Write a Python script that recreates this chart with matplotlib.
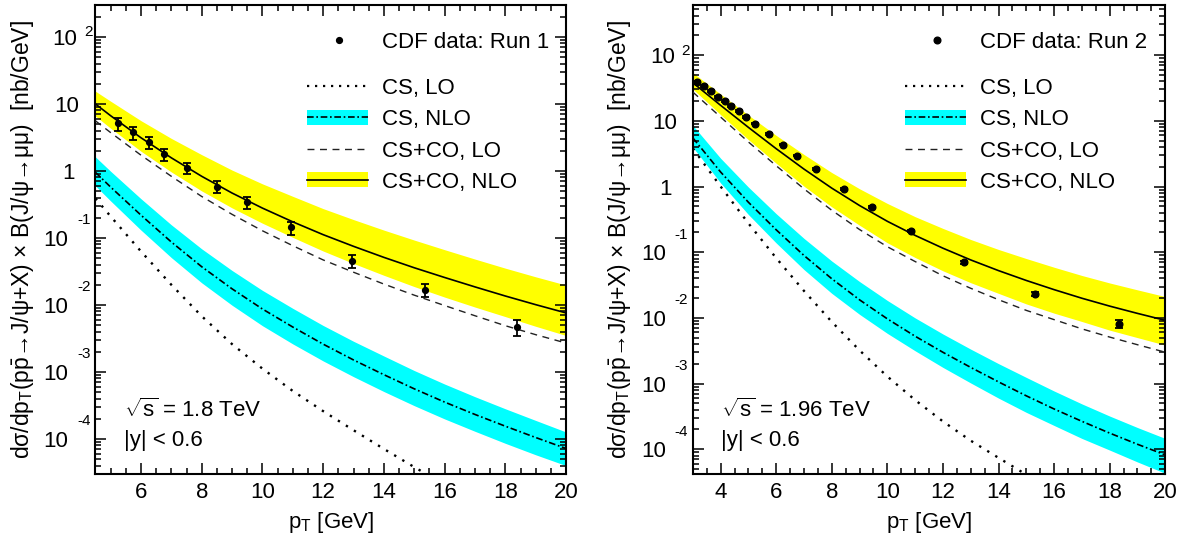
import matplotlib
matplotlib.use("Agg")
import matplotlib.pyplot as plt
from matplotlib.patches import Rectangle
from matplotlib.transforms import offset_copy
from matplotlib.ticker import FixedLocator, MultipleLocator, NullFormatter

plt.rcParams['font.family'] = 'Liberation Sans'
plt.rcParams['mathtext.fontset'] = 'custom'
plt.rcParams['mathtext.rm'] = 'Liberation Sans'
plt.rcParams['mathtext.it'] = 'Liberation Sans:italic'
plt.rcParams['mathtext.sf'] = 'Liberation Sans'

# ---- Run 1 (sqrt(s) = 1.8 TeV) ----
pt1 = [4.5, 5, 6, 7, 8, 9, 10, 11, 12, 13, 14, 15, 16, 17, 18, 19, 20]
co_nlo1 = [10, 6.68, 3.13, 1.57, 0.832, 0.468, 0.279, 0.174, 0.112, 0.075, 0.0513, 0.0359, 0.0257, 0.0186, 0.0136, 0.0101, 0.0076]
co_nlo1_hi = [15.5, 11.0, 5.63, 3.06, 1.75, 1.03, 0.642, 0.418, 0.274, 0.188, 0.131, 0.093, 0.0668, 0.0484, 0.0354, 0.0263, 0.0198]
co_nlo1_lo = [6.6, 4.34, 1.97, 0.966, 0.503, 0.281, 0.166, 0.102, 0.0638, 0.0416, 0.0277, 0.0188, 0.0131, 0.0093, 0.0067, 0.0048, 0.0035]
co_lo1 = [5.6, 3.74, 1.72, 0.832, 0.416, 0.225, 0.128, 0.0766, 0.047, 0.0308, 0.0205, 0.014, 0.0098, 0.0069, 0.0049, 0.0036, 0.0027]
cs_nlo1 = [0.955, 0.575, 0.219, 0.087, 0.0372, 0.0174, 0.0087, 0.00468, 0.0026, 0.00151, 9.1e-4, 5.6e-4, 3.55e-4, 2.32e-4, 1.55e-4, 1.05e-4, 7.2e-5]
cs_nlo1_hi = [1.62, 0.99, 0.385, 0.157, 0.0688, 0.0327, 0.0165, 0.0089, 0.00494, 0.00287, 0.00173, 0.00105, 6.6e-4, 4.27e-4, 2.82e-4, 1.89e-4, 1.27e-4]
cs_nlo1_lo = [0.60, 0.357, 0.131, 0.0509, 0.0214, 0.0099, 0.0049, 0.00262, 0.00146, 8.5e-4, 5.1e-4, 3.14e-4, 1.99e-4, 1.3e-4, 8.6e-5, 5.8e-5, 4.0e-5]
cs_lo1 = [0.39, 0.21, 0.063, 0.020, 0.0068, 0.0026, 0.00112, 5.2e-4, 2.6e-4, 1.35e-4, 7.1e-5, 3.8e-5, 2.1e-5, 1.2e-5, 7e-6, 4e-6, 2.5e-6]

data1_pt = [5.25, 5.75, 6.25, 6.75, 7.5, 8.5, 9.5, 10.95, 12.95, 15.35, 18.4]
data1_val = [5.13, 3.77, 2.67, 1.79, 1.11, 0.583, 0.340, 0.144, 0.0458, 0.0169, 0.00464]
data1_rel = [0.22, 0.22, 0.2, 0.2, 0.2, 0.2, 0.2, 0.22, 0.22, 0.22, 0.27]

# ---- Run 2 (sqrt(s) = 1.96 TeV) ----
pt2 = [3, 4, 5, 6, 7, 8, 9, 10, 11, 12, 13, 14, 15, 16, 17, 18, 19, 20]
co_nlo2 = [38, 17.2, 7.94, 3.76, 1.84, 0.944, 0.513, 0.295, 0.180, 0.115, 0.0762, 0.0524, 0.0371, 0.0269, 0.0199, 0.0151, 0.0117, 0.00917]
co_nlo2_hi = [54, 25.5, 12.2, 6.0, 3.07, 1.63, 0.923, 0.552, 0.347, 0.230, 0.156, 0.110, 0.080, 0.059, 0.0442, 0.034, 0.0267, 0.0211]
co_nlo2_lo = [30.4, 12.4, 5.16, 2.26, 1.01, 0.49, 0.257, 0.139, 0.083, 0.052, 0.0343, 0.0236, 0.0163, 0.0118, 0.0088, 0.0065, 0.0050, 0.00385]
co_lo2 = [27.4, 11.4, 4.76, 2.07, 0.92, 0.434, 0.221, 0.121, 0.072, 0.0437, 0.0282, 0.0189, 0.013, 0.0094, 0.0068, 0.0051, 0.0039, 0.0030]
cs_nlo2 = [5.5, 1.66, 0.575, 0.219, 0.089, 0.0394, 0.0188, 0.00966, 0.00525, 0.00299, 0.00176, 0.00106, 6.5e-4, 4.1e-4, 2.66e-4, 1.76e-4, 1.19e-4, 8.2e-5]
cs_nlo2_hi = [8.5, 2.69, 0.978, 0.385, 0.162, 0.0733, 0.0357, 0.0184, 0.00998, 0.00568, 0.00334, 0.00201, 0.00124, 7.7e-4, 4.9e-4, 3.2e-4, 2.14e-4, 1.46e-4]
cs_nlo2_lo = [3.96, 1.13, 0.374, 0.138, 0.0543, 0.0236, 0.0113, 0.0058, 0.00315, 0.00176, 0.00102, 6.0e-4, 3.64e-4, 2.3e-4, 1.46e-4, 9.7e-5, 6.4e-5, 4.3e-5]
cs_lo2 = [3.8, 1.0, 0.275, 0.0813, 0.0257, 0.0087, 0.0032, 0.00128, 5.6e-4, 2.65e-4, 1.35e-4, 7.4e-5, 4.1e-5, 2.3e-5, 1.3e-5, 8e-6, 5e-6, 3e-6]

data2_pt = [3.16, 3.40, 3.67, 3.91, 4.15, 4.38, 4.65, 4.90, 5.25, 5.74, 6.24, 6.74, 7.44, 8.44, 9.44, 10.84, 12.76, 15.33, 18.35]
data2_val = [39.2, 33.6, 28.6, 23.2, 20.1, 16.7, 14.2, 11.5, 9.1, 6.25, 4.35, 2.96, 1.85, 0.906, 0.487, 0.21, 0.0706, 0.0233, 0.0081]
data2_rel = [0.03] * 16 + [0.05, 0.07, 0.13]

panels = [
    dict(pos=[0.0804, 0.1271, 0.3965, 0.8637], xlim=(4.5, 20), ylim=(3e-5, 300),
         pt=pt1, co_nlo=co_nlo1, co_hi=co_nlo1_hi, co_lo=co_nlo1_lo, co_lo_order=co_lo1,
         cs_nlo=cs_nlo1, cs_hi=cs_nlo1_hi, cs_lo=cs_nlo1_lo, cs_lo_order=cs_lo1,
         dpt=data1_pt, dval=data1_val, drel=data1_rel, ms=4.2,
         run='CDF data: Run 1', energy='1.8'),
    dict(pos=[0.5837, 0.1271, 0.3980, 0.8637], xlim=(3, 20), ylim=(4.2e-5, 580),
         pt=pt2, co_nlo=co_nlo2, co_hi=co_nlo2_hi, co_lo=co_nlo2_lo, co_lo_order=co_lo2,
         cs_nlo=cs_nlo2, cs_hi=cs_nlo2_hi, cs_lo=cs_nlo2_lo, cs_lo_order=cs_lo2,
         dpt=data2_pt, dval=data2_val, drel=data2_rel, ms=4.8,
         run='CDF data: Run 2', energy='1.96'),
]

YELLOW = '#ffff00'
CYAN = '#00ffff'
DOT = (0, (1, 3))
DOT_LEG = (0, (1, 2.6))
DASHDOT = (0, (4, 1.6, 1, 1.6))
DASH = (0, (5, 4))

fig = plt.figure(figsize=(11.87, 5.43), dpi=100)

for p in panels:
    ax = fig.add_axes(p['pos'])
    ax.set_yscale('log')
    ax.set_xlim(*p['xlim'])
    ax.set_ylim(*p['ylim'])

    ax.fill_between(p['pt'], p['co_lo'], p['co_hi'], color=YELLOW, lw=0, zorder=1)
    ax.fill_between(p['pt'], p['cs_lo'], p['cs_hi'], color=CYAN, lw=0, zorder=1)
    ax.plot(p['pt'], p['co_nlo'], color='black', lw=1.2, zorder=3)
    ax.plot(p['pt'], p['co_lo_order'], color='#222222', lw=1.0, linestyle=DASH, zorder=3)
    ax.plot(p['pt'], p['cs_nlo'], color='black', lw=1.2, linestyle=DASHDOT, zorder=3)
    ax.plot(p['pt'], p['cs_lo_order'], color='black', lw=1.7, linestyle=DOT, zorder=3)

    err = [v * r for v, r in zip(p['dval'], p['drel'])]
    ax.errorbar(p['dpt'], p['dval'], yerr=err, fmt='o', color='black', ms=p['ms'],
                elinewidth=1.3, capsize=2.6, capthick=1.3, zorder=4)

    # axes style (ROOT-like)
    for s in ax.spines.values():
        s.set_linewidth(1.5)
    ax.xaxis.set_major_locator(MultipleLocator(2))
    ax.xaxis.set_minor_locator(MultipleLocator(0.5))
    ax.tick_params(which='both', direction='in', top=True, right=True, width=1.1)
    ax.tick_params(which='major', length=8)
    ax.tick_params(which='minor', length=4)
    ax.tick_params(axis='x', labelsize=16, pad=6)
    decades = [-4, -3, -2, -1, 0, 1, 2]
    ax.yaxis.set_major_locator(FixedLocator([10.0 ** d for d in decades]))
    ax.yaxis.set_minor_locator(FixedLocator([m * 10.0 ** d for d in range(-5, 3) for m in range(2, 10)]))
    ax.yaxis.set_major_formatter(NullFormatter())
    ax.yaxis.set_minor_formatter(NullFormatter())

    trans = ax.get_yaxis_transform()
    for d in decades:
        y = 10.0 ** d
        if d == 1 or d == 0:
            t = offset_copy(trans, fig=fig, x=-16 if d == 1 else -21, y=0, units='dots')
            ax.text(0, y, '10' if d == 1 else '1', transform=t, ha='right',
                    va='center_baseline', fontsize=16)
        elif d == 2:
            t = offset_copy(trans, fig=fig, x=-18, y=0, units='dots')
            ax.text(0, y, '10', transform=t, ha='right', va='center_baseline', fontsize=16)
            t = offset_copy(trans, fig=fig, x=-3, y=6, units='dots')
            ax.text(0, y, '2', transform=t, ha='right', va='center_baseline', fontsize=11)
        else:
            t = offset_copy(trans, fig=fig, x=-27, y=0, units='dots')
            ax.text(0, y, '10', transform=t, ha='right', va='center_baseline', fontsize=16)
            t = offset_copy(trans, fig=fig, x=-5, y=19, units='dots')
            ax.text(0, y, str(d), transform=t, ha='right', va='center_baseline', fontsize=11)

    ax.set_xlabel(r'p$_{\mathrm{T}}$ [GeV]', fontsize=16)
    ax.xaxis.label.set_va('center')
    ax.xaxis.set_label_coords(0.5, -0.104)
    ax.set_ylabel('dσ/dp$_{\\mathrm{T}}$(p$\\bar{\\mathrm{p}}$→J/ψ+X) × B(J/ψ→μμ)  [nb/GeV]',
                  fontsize=16.5)
    ax.yaxis.label.set_va('center')
    ax.yaxis.set_label_coords(-0.155, 0.5)

    # legend drawn by hand
    tA = ax.transAxes
    xh0, xh1, xt = 0.449, 0.579, 0.608
    ax.plot([0.517], [0.926], 'o', color='black', ms=p['ms'], transform=tA, clip_on=False)
    ax.text(xt, 0.926, p['run'], transform=tA, fontsize=16, va='center_baseline')
    rows = [0.827, 0.761, 0.694, 0.627]
    ax.plot([xh0, xh1], [rows[0]] * 2, color='black', lw=1.6, linestyle=DOT_LEG, transform=tA)
    ax.text(xt, rows[0], 'CS, LO', transform=tA, fontsize=16, va='center_baseline')
    ax.add_patch(Rectangle((xh0, rows[1] - 0.016), xh1 - xh0, 0.032, color=CYAN, lw=0, transform=tA))
    ax.plot([xh0, xh1], [rows[1]] * 2, color='black', lw=1.2, linestyle=DASHDOT, transform=tA)
    ax.text(xt, rows[1], 'CS, NLO', transform=tA, fontsize=16, va='center_baseline')
    ax.plot([xh0, xh1], [rows[2]] * 2, color='#222222', lw=1.0, linestyle=DASH, transform=tA)
    ax.text(xt, rows[2], 'CS+CO, LO', transform=tA, fontsize=16, va='center_baseline')
    ax.add_patch(Rectangle((xh0, rows[3] - 0.016), xh1 - xh0, 0.032, color=YELLOW, lw=0, transform=tA))
    ax.plot([xh0, xh1], [rows[3]] * 2, color='black', lw=1.2, transform=tA)
    ax.text(xt, rows[3], 'CS+CO, NLO', transform=tA, fontsize=16, va='center_baseline')

    ax.text(0.06, 0.141, r'$\sqrt{\mathrm{s}}$ = ' + p['energy'] + ' TeV', transform=tA,
            fontsize=16, va='center_baseline')
    ax.text(0.06, 0.076, '|y| < 0.6', transform=tA, fontsize=16, va='center_baseline')

fig.savefig('out.png', dpi=100)
